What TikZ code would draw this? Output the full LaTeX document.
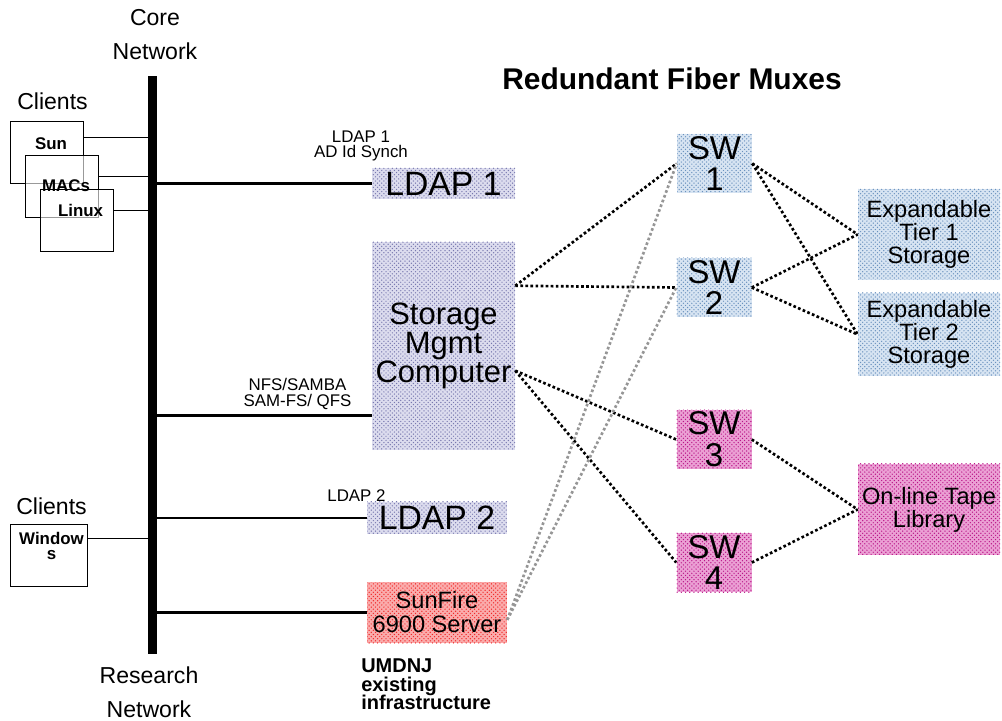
\documentclass[tikz,border=0pt]{standalone}
\usepackage{fontspec}
\setmainfont{Liberation Sans}
\usetikzlibrary{patterns}

\definecolor{ldapdot}{RGB}{120,120,175}
\definecolor{ldapbg}{RGB}{220,220,238}
\definecolor{swdot}{RGB}{105,145,190}
\definecolor{swbg}{RGB}{215,228,242}
\definecolor{tapedot}{RGB}{185,20,135}
\definecolor{tapebg}{RGB}{235,160,212}
\definecolor{firedot}{RGB}{240,40,40}
\definecolor{firebg}{RGB}{250,172,172}
\definecolor{linkgray}{RGB}{150,150,150}

\begin{document}
\begin{tikzpicture}[x=0.025cm, y=-0.025cm,
	wh/.style 2 args={minimum width=#1*0.025cm, minimum height=#2*0.025cm},
	hwbox/.style 2 args={inner sep=0pt, align=center, preaction={fill=#2}, pattern=crosshatch dots, pattern color=#1},
	client/.style={draw, line width=0.7pt, fill=white, fill opacity=0.6},
	clientname/.style={font=\fontsize{12}{11.3}\selectfont\bfseries, inner sep=0pt, anchor=base},
	note/.style={font=\fontsize{12}{11.3}\selectfont, inner sep=0pt, align=center},
	netname/.style={font=\fontsize{16.4}{24.3}\selectfont, inner sep=0pt, align=center},
	feed/.style={line width=1.8pt},
	tap/.style={line width=0.7pt},
	fiber/.style={line width=1.9pt, dash pattern=on 1.9pt off 1.7pt},
	spare/.style={fiber, draw=linkgray}]
	\useasboundingbox (0,0) rectangle (1002,721);

	% backbone
	\node[fill=black, inner sep=0pt, wh={9}{578}] (bus) at (152.5,365) {};
	\node[netname] (core) at (155,34.5) {Core\\Network};
	\node[netname] (research) at (149,692) {Research\\Network};

	% clients
	\node[netname, anchor=base] (cliA) at (52.5,110) {Clients};
	\node[netname, anchor=base] (cliB) at (51.5,515) {Clients};
	\node[client, wh={73}{62}] (sunbox) at (46.5,152) {};
	\node[client, wh={73}{62}] (macbox) at (61.5,186) {};
	\node[client, wh={73}{62}] (linbox) at (76.5,220) {};
	\node[client, wh={77}{62}] (winbox) at (48.5,555) {};
	\node[clientname] (sun) at (51,150) {Sun};
	\node[clientname] (macs) at (66,192) {MACs};
	\node[clientname] (linux) at (80.5,217) {Linux};
	\node[clientname, align=center, anchor=center] (win) at (51.5,546) {Window\\s};

	\draw[tap] (sunbox.22) -- (sunbox.22 -| bus.west);
	\draw[tap] (macbox.14) -- (macbox.14 -| bus.west);
	\draw[tap] (linbox.14) -- (linbox.14 -| bus.west);
	\draw[tap] (winbox.23) -- (winbox.23 -| bus.west);

	% servers
	\node[hwbox={ldapdot}{ldapbg}, wh={143}{31}, font=\fontsize{24}{24}\selectfont] (ldapA) at (443.5,183.5) {LDAP 1};
	\node[hwbox={ldapdot}{ldapbg}, wh={143}{208}, font=\fontsize{22}{19.5}\selectfont] (mgmt) at (443.5,346) {Storage\\Mgmt\\Computer};
	\node[hwbox={ldapdot}{ldapbg}, wh={140}{32}, font=\fontsize{24}{24}\selectfont] (ldapB) at (437,518) {LDAP 2};
	\node[hwbox={firedot}{firebg}, wh={140}{61}, font=\fontsize{16.8}{17}\selectfont] (sunfire) at (437,612.5) {SunFire\\6900 Server};

	\draw[feed] (bus.east |- ldapA.west) -- (ldapA.west);
	\draw[feed] (bus.east |- mgmt.-136) -- (mgmt.-136);
	\draw[feed] (bus.east |- ldapB.west) -- (ldapB.west);
	\draw[feed] (bus.east |- sunfire.west) -- (sunfire.west);

	\node[note] (lblA) at (361,146) {LDAP 1\\AD Id Synch};
	\node[note] (lblB) at (297.5,394) {NFS/SAMBA\\SAM-FS/ QFS};
	\node[note, anchor=base] (lblC) at (356.5,502) {LDAP 2};
	\node[note, font=\fontsize{14.2}{13.5}\selectfont\bfseries, align=left, anchor=north west] (umdnj) at (361,658) {UMDNJ\\existing\\infrastructure};

	% fiber muxes and storage
	\node[font=\fontsize{21.3}{21.3}\selectfont\bfseries, anchor=base, inner sep=0pt] (title) at (672,90) {Redundant Fiber Muxes};
	\node[hwbox={swdot}{swbg}, wh={75}{59}, font=\fontsize{23.4}{22.7}\selectfont] (swA) at (714.5,163.5) {SW\\1};
	\node[hwbox={swdot}{swbg}, wh={75}{59}, font=\fontsize{23.4}{22.7}\selectfont] (swB) at (714,287.5) {SW\\2};
	\node[hwbox={tapedot}{tapebg}, wh={75}{59}, font=\fontsize{23.4}{22.7}\selectfont] (swC) at (714,439.5) {SW\\3};
	\node[hwbox={tapedot}{tapebg}, wh={75}{59}, font=\fontsize{23.4}{22.7}\selectfont] (swD) at (714,562.5) {SW\\4};
	\node[hwbox={swdot}{swbg}, wh={142}{91}, font=\fontsize{16.8}{16.3}\selectfont] (tierA) at (929,234.5) {Expandable\\Tier 1\\Storage};
	\node[hwbox={swdot}{swbg}, wh={142}{83}, font=\fontsize{16.8}{16.3}\selectfont] (tierB) at (929,334.5) {Expandable\\Tier 2\\Storage};
	\node[hwbox={tapedot}{tapebg}, wh={142}{91}, font=\fontsize{16.8}{16.3}\selectfont] (tape) at (929,509.5) {On-line Tape\\Library};

	\draw[fiber] (mgmt.40) -- (swA.west);
	\draw[fiber] (mgmt.40) -- (swB.west);
	\draw[fiber] (mgmt.-19) -- (swC.west);
	\draw[fiber] (mgmt.-19) -- (swD.west);
	\draw[fiber] (swA.east) -- (tierA.west);
	\draw[fiber] (swA.east) -- (tierB.west);
	\draw[fiber] (swB.east) -- (tierA.west);
	\draw[fiber] (swB.east) -- (tierB.west);
	\draw[fiber] (swC.east) -- (tape.west);
	\draw[fiber] (swD.east) -- (tape.west);
	\draw[spare] (sunfire.-6) -- (swA.west);
	\draw[spare] (sunfire.-6) -- (swB.west);

\end{tikzpicture}
\end{document}
